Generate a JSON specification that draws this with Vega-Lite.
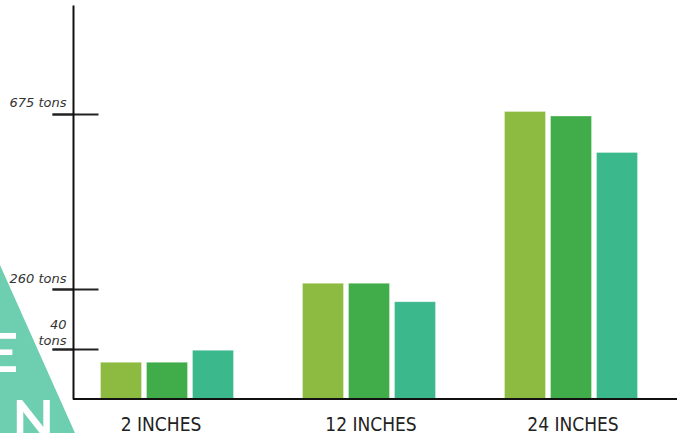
{
  "$schema": "https://vega.github.io/schema/vega-lite/v6.json",
  "autosize": {"type": "none"},
  "padding": {"left": 73, "top": 5, "right": 0, "bottom": 34},
  "width": 604,
  "height": 394,
  "background": "white",
  "config": {"view": {"stroke": null}},
  "datasets": {
    "bars": [
      {"size": "2 INCHES", "series": "Series 1", "tons": 86.9},
      {"size": "2 INCHES", "series": "Series 2", "tons": 86.9},
      {"size": "2 INCHES", "series": "Series 3", "tons": 115.3},
      {"size": "12 INCHES", "series": "Series 1", "tons": 274},
      {"size": "12 INCHES", "series": "Series 2", "tons": 274},
      {"size": "12 INCHES", "series": "Series 3", "tons": 230.4},
      {"size": "24 INCHES", "series": "Series 1", "tons": 681},
      {"size": "24 INCHES", "series": "Series 2", "tons": 670},
      {"size": "24 INCHES", "series": "Series 3", "tons": 584}
    ]
  },
  "layer": [
    {
      "data": {"values": [{"item": "logo"}]},
      "mark": {"type": "point", "shape": "M -1 -1 L -0.107 1 L -1.5 1 Z", "size": 28224, "filled": true, "color": "#6ECEB0", "opacity": 1, "strokeWidth": 0},
      "encoding": {
        "x": {"datum": "2 INCHES", "type": "nominal", "bandPosition": 0.089, "axis": null},
        "y": {"datum": 118.4, "type": "quantitative", "axis": null}
      }
    },
    {
      "data": {"values": [{"letter": "E", "v": 63.9}]},
      "mark": {"type": "text", "font": "Lato", "fontWeight": "bold", "fontSize": 54, "color": "white", "align": "right", "baseline": "alphabetic", "dx": -48},
      "encoding": {
        "x": {"datum": "2 INCHES", "type": "nominal", "bandPosition": 0, "axis": null},
        "y": {"field": "v", "type": "quantitative", "axis": null},
        "text": {"field": "letter"}
      }
    },
    {
      "data": {"values": [{"letter": "N", "v": -94.7}]},
      "mark": {"type": "text", "font": "Lato", "fontWeight": "bold", "fontSize": 54, "color": "white", "align": "right", "baseline": "alphabetic", "dx": -12},
      "encoding": {
        "x": {"datum": "2 INCHES", "type": "nominal", "bandPosition": 0, "axis": null},
        "y": {"field": "v", "type": "quantitative", "axis": null},
        "text": {"field": "letter"}
      }
    },
    {
      "data": {"name": "bars"},
      "mark": {"type": "bar", "stroke": "white", "strokeWidth": 1, "strokeOpacity": 0.3},
      "encoding": {
        "x": {
          "field": "size", "type": "nominal",
          "scale": {"domain": ["2 INCHES", "12 INCHES", "24 INCHES"], "range": [-7, 599], "paddingInner": 0, "paddingOuter": 0},
          "axis": {
            "title": null, "domain": false, "ticks": false, "tickSize": 0, "labelAngle": 0,
            "labelPadding": 31, "labelBaseline": "alphabetic",
            "labelFont": "DejaVu Sans Condensed", "labelFontSize": 19, "labelColor": "#222",
            "labelOffset": {"condition": {"test": "datum.value == '2 INCHES'", "value": -6}, "value": 2}
          }
        },
        "xOffset": {"field": "series", "type": "nominal", "scale": {"paddingInner": 0.109, "paddingOuter": 0.75}},
        "y": {
          "field": "tons", "type": "quantitative",
          "scale": {"domain": [0, 933], "nice": false, "zero": true},
          "axis": {"title": null, "orient": "left", "offset": -25, "domain": false, "labels": false, "grid": false, "tickSize": 46, "tickWidth": 2, "tickColor": "#222", "values": [118.4, 260, 675]}
        },
        "color": {
          "field": "series", "type": "nominal",
          "scale": {"domain": ["Series 1", "Series 2", "Series 3"], "range": ["#8DBB41", "#41AD4A", "#3BB98D"]},
          "legend": null
        }
      }
    },
    {
      "data": {"values": [{"item": "baseline"}]},
      "mark": {"type": "rule", "color": "#111", "strokeWidth": 2},
      "encoding": {
        "y": {
          "datum": 0, "type": "quantitative",
          "axis": {
            "title": null, "orient": "left", "offset": 0, "grid": false, "zindex": 1,
            "values": [118.4, 260, 675],
            "domain": true, "domainColor": "#111", "domainWidth": 2,
            "tickSize": 21, "tickWidth": 2, "tickColor": "#222",
            "labelPadding": -14, "labelFont": "DejaVu Sans", "labelFontStyle": "italic", "labelFontSize": 13, "labelColor": "#333",
            "labelBaseline": "alphabetic", "labelLineHeight": 16, "labelOverlap": false, "labelFlush": false,
            "labelOffset": {"condition": {"test": "datum.value < 200", "value": -21}, "value": -7}, 
            "labelExpr": "datum.value > 600 ? '675 tons' : datum.value > 200 ? '260 tons' : ['40\u00a0\u00a0\u00a0', 'tons']"
          }
        }
      }
    }
  ],
  "resolve": {"axis": {"y": "independent", "x": "independent"}}
}
